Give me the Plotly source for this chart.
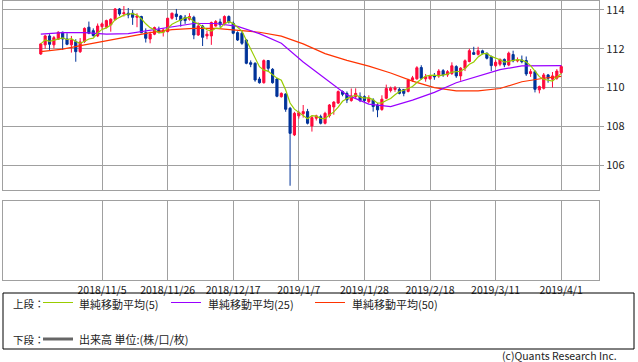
import plotly.graph_objects as go
import pandas as pd

# ---- data ----
dates = [d.strftime("%Y-%m-%d") for d in pd.bdate_range("2018-10-16", "2019-04-01")]

open_ = [111.73, 112.20, 112.66, 112.20, 112.49, 112.85, 112.50, 112.20, 112.37, 111.85,
         112.37, 113.11, 112.93, 112.66, 113.14, 113.11, 113.23, 113.50, 114.05, 113.80,
         113.83, 113.83, 113.62, 113.66, 112.83, 112.50, 112.75, 112.97, 112.85, 112.88,
         113.57, 113.79, 113.69, 113.62, 113.52, 113.62, 112.71, 113.17, 112.66, 112.66,
         113.17, 113.38, 113.28, 113.66, 113.31, 112.83, 112.80, 112.45, 111.28, 111.25,
         110.44, 110.25, 111.39, 110.94, 110.44, 109.53, 109.67, 108.93, 107.56, 108.54,
         108.65, 108.76, 108.02, 108.42, 108.50, 108.16, 108.55, 109.00, 109.20, 109.79,
         109.70, 109.33, 109.53, 109.55, 109.53, 109.27, 109.36, 109.10, 108.87, 109.45,
         109.85, 109.90, 109.91, 109.90, 109.80, 110.38, 110.45, 111.03, 110.45, 110.45,
         110.62, 110.60, 110.87, 110.65, 110.72, 111.08, 110.60, 111.00, 111.34, 111.80,
         111.71, 111.89, 111.77, 111.59, 111.13, 111.20, 111.45, 111.16, 111.70, 111.37,
         111.42, 111.39, 110.72, 110.82, 109.88, 109.96, 110.65, 110.43, 110.48, 110.77]
high = [112.30, 112.72, 112.75, 112.66, 112.90, 112.88, 112.80, 112.66, 112.49, 112.55,
        113.10, 113.40, 113.05, 113.30, 113.35, 113.50, 113.57, 114.10, 114.10, 114.20,
        114.10, 114.00, 113.83, 113.70, 113.05, 112.88, 113.14, 113.14, 113.05, 113.60,
        113.86, 114.05, 113.74, 113.74, 113.83, 113.70, 113.35, 113.23, 112.93, 113.40,
        113.48, 113.55, 113.72, 113.72, 113.40, 112.90, 112.90, 112.50, 111.40, 111.30,
        110.55, 111.45, 111.42, 111.00, 110.50, 109.75, 109.70, 109.00, 108.75, 108.80,
        109.10, 108.90, 108.55, 108.60, 108.60, 108.75, 109.15, 109.30, 109.85, 109.85,
        109.80, 109.95, 109.96, 109.75, 109.60, 109.60, 109.45, 109.20, 109.60, 110.15,
        110.05, 110.08, 110.00, 109.92, 110.45, 110.60, 111.10, 111.15, 110.70, 110.65,
        110.75, 110.95, 110.95, 110.90, 111.30, 111.15, 111.05, 111.45, 112.00, 112.10,
        112.10, 111.95, 111.80, 111.65, 111.40, 111.50, 111.50, 111.85, 111.90, 111.55,
        111.65, 111.60, 110.95, 110.90, 110.10, 110.75, 110.70, 110.80, 110.95, 111.15]
low = [111.68, 112.00, 111.94, 112.02, 112.45, 111.94, 112.18, 111.80, 111.33, 111.78,
       112.30, 112.75, 112.62, 112.60, 113.00, 113.05, 112.88, 113.45, 113.70, 113.66,
       113.57, 113.23, 113.11, 112.80, 112.32, 112.28, 112.70, 112.80, 112.63, 112.85,
       113.50, 113.48, 113.14, 113.28, 113.45, 112.49, 112.66, 112.14, 112.49, 112.20,
       113.14, 113.10, 113.20, 113.30, 112.75, 112.40, 112.20, 111.20, 111.05, 110.30,
       110.20, 110.20, 110.80, 110.20, 109.50, 109.48, 108.75, 104.94, 107.50, 108.40,
       108.45, 108.10, 107.73, 108.30, 108.10, 108.10, 108.45, 108.60, 109.15, 109.55,
       109.20, 109.27, 109.45, 109.25, 109.25, 109.20, 108.76, 108.47, 108.80, 109.40,
       109.75, 109.78, 109.65, 109.55, 109.75, 110.30, 110.40, 110.40, 110.30, 110.40,
       110.40, 110.50, 110.55, 110.55, 110.65, 110.50, 110.35, 110.85, 111.30, 111.68,
       111.65, 111.70, 111.45, 110.85, 111.05, 111.10, 111.05, 111.10, 111.30, 111.30,
       111.25, 110.60, 110.55, 109.75, 109.70, 109.90, 110.25, 110.00, 110.40, 110.70]
close = [112.25, 112.66, 112.23, 112.57, 112.85, 112.50, 112.23, 112.45, 111.85, 112.35,
         113.05, 112.80, 112.68, 113.17, 113.28, 113.45, 113.52, 114.05, 113.79, 113.85,
         113.74, 113.62, 113.69, 112.83, 112.54, 112.76, 113.09, 112.85, 112.97, 113.57,
         113.83, 113.66, 113.45, 113.45, 113.66, 112.71, 113.17, 112.59, 112.75, 113.35,
         113.40, 113.24, 113.66, 113.38, 112.80, 112.45, 112.28, 111.25, 111.20, 110.39,
         110.25, 111.39, 110.99, 110.25, 109.55, 109.70, 108.88, 107.64, 108.67, 108.71,
         108.76, 108.16, 108.45, 108.54, 108.16, 108.67, 109.10, 109.25, 109.79, 109.65,
         109.36, 109.57, 109.70, 109.33, 109.33, 109.45, 109.02, 108.85, 109.40, 109.95,
         109.97, 109.98, 109.70, 109.70, 110.39, 110.50, 111.02, 110.48, 110.55, 110.60,
         110.55, 110.85, 110.65, 110.82, 111.12, 110.60, 111.00, 111.38, 111.90, 111.71,
         111.90, 111.77, 111.51, 111.13, 111.30, 111.45, 111.17, 111.77, 111.38, 111.42,
         111.33, 110.70, 110.82, 109.91, 110.05, 110.65, 110.48, 110.60, 110.85, 111.08]

# moving averages (25, 50) every 5 trading days
ma_dates = ["2018-10-16", "2018-10-23", "2018-10-30", "2018-11-06", "2018-11-13",
            "2018-11-20", "2018-11-27", "2018-12-04", "2018-12-11", "2018-12-18",
            "2018-12-25", "2019-01-01", "2019-01-08", "2019-01-15", "2019-01-22",
            "2019-01-29", "2019-02-05", "2019-02-12", "2019-02-19", "2019-02-26",
            "2019-03-05", "2019-03-12", "2019-03-19", "2019-03-26", "2019-04-01"]
ma25 = [112.75, 112.83, 112.83, 112.75, 112.78, 112.95, 113.12, 113.30, 113.30, 113.15,
        112.78, 112.28, 111.32, 110.45, 109.62, 109.15, 109.02, 109.35, 109.75, 110.25,
        110.60, 110.92, 111.12, 111.13, 111.13]
ma50 = [111.85, 111.98, 112.20, 112.42, 112.60, 112.83, 112.98, 113.05, 113.05, 112.95,
        112.85, 112.65, 112.25, 111.75, 111.40, 111.10, 110.75, 110.33, 110.00, 109.83,
        109.83, 109.95, 110.30, 110.48, 110.58]

tick_dates = ["2018-11-05", "2018-11-26", "2018-12-17", "2019-01-07",
              "2019-01-28", "2019-02-18", "2019-03-11", "2019-04-01"]
tick_text = ["2018/11/5", "2018/11/26", "2018/12/17", "2019/1/7",
             "2019/1/28", "2019/2/18", "2019/3/11", "2019/4/1"]
price_ticks = [106, 108, 110, 112, 114]

ma5 = pd.Series(close).rolling(5, min_periods=1).mean().round(3).tolist()

# ---- styling ----
UP = "#FF0A3C"
DN = "#003399"
C5 = "#99CC00"
C25 = "#9900FF"
C50 = "#FF3300"
GRID = "#A0A0A0"
FONT = "Noto Sans CJK JP"

W, H = 638, 362
ML, MR, MT, MB = 3, 39, 1, 82


def px_x(x):
    return (x - ML) / (W - ML - MR)


def px_y(y):
    return (H - MB - y) / (H - MT - MB)


fig = go.Figure()
fig.add_trace(go.Candlestick(
    x=dates, open=open_, high=high, low=low, close=close,
    increasing=dict(line=dict(color=UP, width=1), fillcolor=UP),
    decreasing=dict(line=dict(color=DN, width=1), fillcolor=DN),
    whiskerwidth=0, showlegend=False, hoverinfo="skip",
    xaxis="x", yaxis="y"))
fig.add_trace(go.Scatter(x=ma_dates, y=ma50, mode="lines",
                         line=dict(color=C50, width=1.2), showlegend=False,
                         hoverinfo="skip", xaxis="x", yaxis="y"))
fig.add_trace(go.Scatter(x=ma_dates, y=ma25, mode="lines",
                         line=dict(color=C25, width=1.2), showlegend=False,
                         hoverinfo="skip", xaxis="x", yaxis="y"))
fig.add_trace(go.Scatter(x=dates, y=ma5, mode="lines",
                         line=dict(color=C5, width=1.2), showlegend=False,
                         hoverinfo="skip", xaxis="x", yaxis="y"))
# empty volume panel
fig.add_trace(go.Scatter(x=dates, y=[None] * len(dates), mode="lines",
                         showlegend=False, hoverinfo="skip",
                         xaxis="x2", yaxis="y2"))

xr = [-8.64, 127.64]
top_dom = [px_y(190), 1]
bot_dom = [0, px_y(201)]

common_x = dict(type="category", range=xr, tickvals=tick_dates, ticktext=tick_text,
                showgrid=True, gridcolor=GRID, gridwidth=1, showline=True,
                mirror=True, linecolor=GRID, linewidth=1, ticks="",
                zeroline=False, fixedrange=True)

fig.update_layout(
    width=W, height=H,
    margin=dict(l=ML, r=MR, t=MT, b=MB, pad=0),
    paper_bgcolor="white", plot_bgcolor="white",
    font=dict(family=FONT, size=11, color="#222"),
    xaxis=dict(common_x, domain=[0, 1], anchor="y", showticklabels=False,
               rangeslider=dict(visible=False)),
    yaxis=dict(domain=top_dom, anchor="x", side="right", range=[104.72, 114.46],
               tickvals=price_ticks, showgrid=True, gridcolor=GRID, gridwidth=1,
               ticks="outside", ticklen=4, tickcolor=GRID, showline=True,
               mirror=True, linecolor=GRID, linewidth=1, zeroline=False,
               fixedrange=True, tickfont=dict(size=11, color="#222")),
    xaxis2=dict(common_x, domain=[0, 1], anchor="y2", showticklabels=True,
                tickfont=dict(size=10.5, color="#222")),
    yaxis2=dict(domain=bot_dom, anchor="x2", range=[0, 1], showgrid=False,
                showticklabels=False, showline=True, mirror=True,
                linecolor=GRID, linewidth=1, zeroline=False, ticks="",
                fixedrange=True),
)

shapes = [
    dict(type="rect", xref="paper", yref="paper", x0=px_x(3), x1=px_x(634),
         y0=px_y(349), y1=px_y(293), line=dict(color="black", width=1)),
    dict(type="line", xref="paper", yref="paper", x0=px_x(43), x1=px_x(73),
         y0=px_y(302.5), y1=px_y(302.5), line=dict(color=C5, width=1)),
    dict(type="line", xref="paper", yref="paper", x0=px_x(171), x1=px_x(201),
         y0=px_y(302.5), y1=px_y(302.5), line=dict(color=C25, width=1)),
    dict(type="line", xref="paper", yref="paper", x0=px_x(315), x1=px_x(345),
         y0=px_y(302.5), y1=px_y(302.5), line=dict(color=C50, width=1)),
    dict(type="line", xref="paper", yref="paper", x0=px_x(43), x1=px_x(73),
         y0=px_y(339), y1=px_y(339), line=dict(color="#666666", width=3)),
]

ann = []


def label(text, x, y, anchor="left", size=10.5):
    ann.append(dict(text=text, xref="paper", yref="paper", x=px_x(x), y=px_y(y),
                    xanchor=anchor, yanchor="middle", showarrow=False,
                    font=dict(size=size, color="#222", family=FONT)))


label("上段：", 11, 303.5)
label("単純移動平均(5)", 77, 303.5, size=11)
label("単純移動平均(25)", 206, 303.5, size=11)
label("単純移動平均(50)", 350, 303.5, size=11)
label("下段：", 11, 339)
label("出来高 単位:(株/口/枚)", 77, 339, size=11)
label("(c)Quants Research Inc.", 619, 355, anchor="right")

fig.update_layout(shapes=shapes, annotations=ann)
fig.write_html("out.html",
               config={"displayModeBar": False, "staticPlot": True},
               post_script="document.body.style.margin='0';"
                           "document.body.style.padding='0';")
